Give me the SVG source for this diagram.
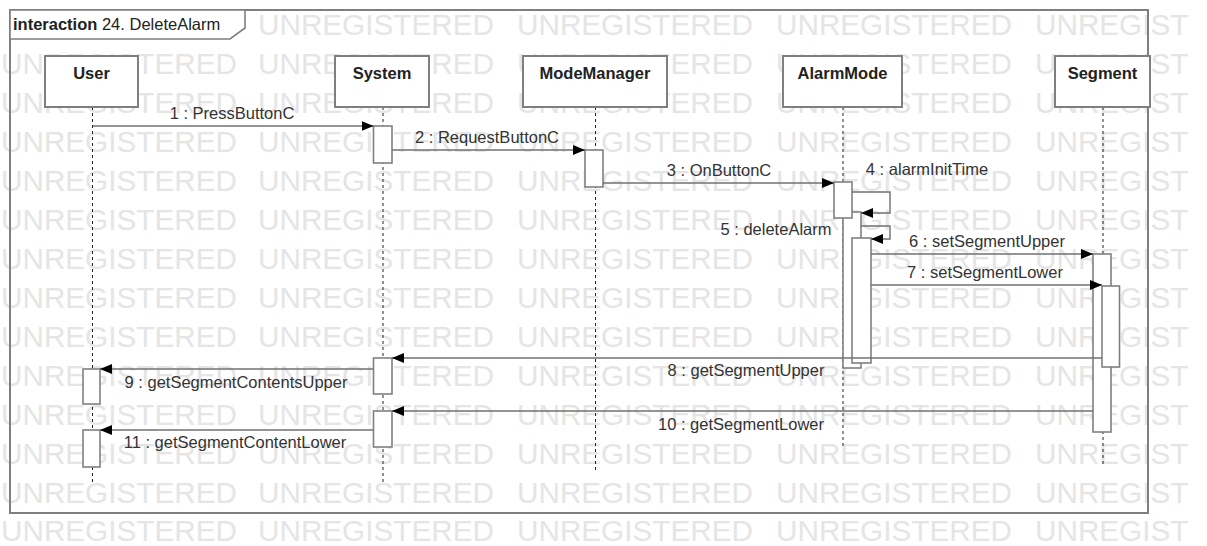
<svg xmlns="http://www.w3.org/2000/svg" width="1207" height="546" viewBox="0 0 1207 546">
<style>
.wm{font-family:"Liberation Sans",Arial,sans-serif;font-size:29.7px;fill:#e5e5e5}
.frame{fill:none;stroke:#7f7f7f;stroke-width:2}
.tab{fill:#fff;stroke:#7f7f7f;stroke-width:1.6}
.box{fill:#fff;stroke:#7f7f7f;stroke-width:2}
.act{fill:#fff;stroke:#808080;stroke-width:1.6}
.life{fill:none;stroke:#222;stroke-width:1;stroke-dasharray:3 3}
.msg{fill:none;stroke:#707070;stroke-width:1.4;marker-end:url(#arr)}
.lbl{font-family:"Liberation Sans",Arial,sans-serif;font-size:16.5px;fill:#333;text-anchor:middle}
.name{font-family:"Liberation Sans",Arial,sans-serif;font-size:16.5px;font-weight:bold;fill:#222;text-anchor:middle}
.title{font-family:"Liberation Sans",Arial,sans-serif;font-size:16.5px;fill:#222}
</style>
<defs>
<marker id="arr" markerUnits="userSpaceOnUse" markerWidth="13" markerHeight="11" refX="12" refY="5" orient="auto">
<path d="M0,0 L12,5 L0,10 Z" fill="#000"/>
</marker>
</defs>
<rect x="0" y="0" width="1207" height="546" fill="#fff"/>
<g id="watermark">
<text class="wm" y="35"><tspan x="258">UNREGISTERED</tspan><tspan x="517">UNREGISTERED</tspan><tspan x="776">UNREGISTERED</tspan><tspan x="1035">UNREGIST</tspan></text>
<text class="wm" y="74"><tspan x="1">UNREGISTERED</tspan><tspan x="258">UNREGISTERED</tspan><tspan x="517">UNREGISTERED</tspan><tspan x="776">UNREGISTERED</tspan><tspan x="1035">UNREGIST</tspan></text>
<text class="wm" y="113"><tspan x="1">UNREGISTERED</tspan><tspan x="258">UNREGISTERED</tspan><tspan x="517">UNREGISTERED</tspan><tspan x="776">UNREGISTERED</tspan><tspan x="1035">UNREGIST</tspan></text>
<text class="wm" y="152"><tspan x="1">UNREGISTERED</tspan><tspan x="258">UNREGISTERED</tspan><tspan x="517">UNREGISTERED</tspan><tspan x="776">UNREGISTERED</tspan><tspan x="1035">UNREGIST</tspan></text>
<text class="wm" y="191"><tspan x="1">UNREGISTERED</tspan><tspan x="258">UNREGISTERED</tspan><tspan x="517">UNREGISTERED</tspan><tspan x="776">UNREGISTERED</tspan><tspan x="1035">UNREGIST</tspan></text>
<text class="wm" y="230"><tspan x="1">UNREGISTERED</tspan><tspan x="258">UNREGISTERED</tspan><tspan x="517">UNREGISTERED</tspan><tspan x="776">UNREGISTERED</tspan><tspan x="1035">UNREGIST</tspan></text>
<text class="wm" y="269"><tspan x="1">UNREGISTERED</tspan><tspan x="258">UNREGISTERED</tspan><tspan x="517">UNREGISTERED</tspan><tspan x="776">UNREGISTERED</tspan><tspan x="1035">UNREGIST</tspan></text>
<text class="wm" y="308"><tspan x="1">UNREGISTERED</tspan><tspan x="258">UNREGISTERED</tspan><tspan x="517">UNREGISTERED</tspan><tspan x="776">UNREGISTERED</tspan><tspan x="1035">UNREGIST</tspan></text>
<text class="wm" y="347"><tspan x="1">UNREGISTERED</tspan><tspan x="258">UNREGISTERED</tspan><tspan x="517">UNREGISTERED</tspan><tspan x="776">UNREGISTERED</tspan><tspan x="1035">UNREGIST</tspan></text>
<text class="wm" y="386"><tspan x="1">UNREGISTERED</tspan><tspan x="258">UNREGISTERED</tspan><tspan x="517">UNREGISTERED</tspan><tspan x="776">UNREGISTERED</tspan><tspan x="1035">UNREGIST</tspan></text>
<text class="wm" y="425"><tspan x="1">UNREGISTERED</tspan><tspan x="258">UNREGISTERED</tspan><tspan x="517">UNREGISTERED</tspan><tspan x="776">UNREGISTERED</tspan><tspan x="1035">UNREGIST</tspan></text>
<text class="wm" y="464"><tspan x="1">UNREGISTERED</tspan><tspan x="258">UNREGISTERED</tspan><tspan x="517">UNREGISTERED</tspan><tspan x="776">UNREGISTERED</tspan><tspan x="1035">UNREGIST</tspan></text>
<text class="wm" y="503"><tspan x="1">UNREGISTERED</tspan><tspan x="258">UNREGISTERED</tspan><tspan x="517">UNREGISTERED</tspan><tspan x="776">UNREGISTERED</tspan><tspan x="1035">UNREGIST</tspan></text>
<text class="wm" y="541"><tspan x="1">UNREGISTERED</tspan><tspan x="258">UNREGISTERED</tspan><tspan x="517">UNREGISTERED</tspan><tspan x="776">UNREGISTERED</tspan><tspan x="1035">UNREGIST</tspan></text>
</g>
<g id="frame">
<rect class="frame" x="10" y="10" width="1138" height="503"/>
<path class="tab" d="M10,10 L245,10 L245,28 L230,39 L10,39 Z"/>
<text class="title" x="13" y="30"><tspan font-weight="bold">interaction</tspan> 24. DeleteAlarm</text>
</g>
<g id="User">
<line class="life" x1="92.5" y1="107" x2="92.5" y2="485"/>
<rect class="box" x="45" y="56" width="93" height="51"/>
<text class="name" x="91.5" y="79">User</text>
<rect class="act" x="83" y="369" width="17" height="35"/>
<rect class="act" x="83" y="430" width="17" height="37"/>
</g>
<g id="System">
<line class="life" x1="383" y1="107" x2="383" y2="485"/>
<rect class="box" x="335" y="56" width="94" height="51"/>
<text class="name" x="382" y="79">System</text>
<rect class="act" x="373.5" y="126" width="18.5" height="37"/>
<rect class="act" x="373.5" y="358" width="18.5" height="36"/>
<rect class="act" x="373.5" y="411" width="18.5" height="36"/>
</g>
<g id="ModeManager">
<line class="life" x1="595.5" y1="107" x2="595.5" y2="471"/>
<rect class="box" x="523" y="56" width="144" height="51"/>
<text class="name" x="595" y="79">ModeManager</text>
<rect class="act" x="585" y="150" width="18" height="37"/>
</g>
<g id="AlarmMode">
<line class="life" x1="843" y1="107" x2="843" y2="448"/>
<rect class="box" x="783" y="56" width="119" height="51"/>
<text class="name" x="842.5" y="79">AlarmMode</text>
<rect class="act" x="843" y="212" width="18" height="156"/>
<rect class="act" x="834" y="182" width="18" height="36"/>
<rect class="act" x="852" y="238" width="19" height="125"/>
</g>
<g id="Segment">
<line class="life" x1="1103" y1="107" x2="1103" y2="465"/>
<rect class="box" x="1055" y="56" width="95" height="51"/>
<text class="name" x="1102.5" y="79">Segment</text>
<rect class="act" x="1093" y="254" width="18" height="178"/>
<rect class="act" x="1102" y="286" width="17.5" height="81"/>
</g>
<g id="connectors">
<line class="msg" x1="93" y1="126" x2="373.5" y2="126"/>
<text class="lbl" x="232" y="119">1 : PressButtonC</text>
<line class="msg" x1="392" y1="150" x2="585" y2="150"/>
<text class="lbl" x="487" y="143">2 : RequestButtonC</text>
<line class="msg" x1="603" y1="183" x2="834" y2="183"/>
<text class="lbl" x="719" y="176">3 : OnButtonC</text>
<polyline class="msg" points="852,192 890,192 890,213 861,213"/>
<text class="lbl" x="927" y="175">4 : alarmInitTime</text>
<polyline class="msg" points="861,226 890,226 890,239 871,239"/>
<text class="lbl" x="776" y="235">5 : deleteAlarm</text>
<line class="msg" x1="871" y1="254" x2="1093" y2="254"/>
<text class="lbl" x="987" y="247">6 : setSegmentUpper</text>
<line class="msg" x1="871" y1="285" x2="1102" y2="285"/>
<text class="lbl" x="985" y="278">7 : setSegmentLower</text>
<line class="msg" x1="1102" y1="358" x2="392" y2="358"/>
<text class="lbl" x="746" y="376">8 : getSegmentUpper</text>
<line class="msg" x1="373.5" y1="369" x2="100" y2="369"/>
<text class="lbl" x="236" y="388">9 : getSegmentContentsUpper</text>
<line class="msg" x1="1093" y1="411" x2="392" y2="411"/>
<text class="lbl" x="741" y="430">10 : getSegmentLower</text>
<line class="msg" x1="373.5" y1="430" x2="100" y2="430"/>
<text class="lbl" x="235" y="448">11 : getSegmentContentLower</text>
</g>
</svg>
